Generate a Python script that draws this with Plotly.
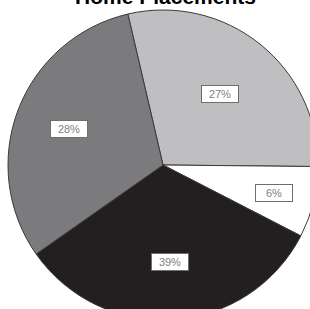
import math
import plotly.graph_objects as go

title_text = "Home Placements"
categories = ["Placement A", "Placement B", "Placement C", "Placement D"]
slice_values = [28.8, 7.4, 32.7, 31.1]
label_texts = ["27%", "6%", "39%", "28%"]
colors = ["#bfbfc2", "#ffffff", "#231f20", "#7b7b7e"]

W, H = 326, 330
CX, CY, R = 163, 165, 155   # pie centre / radius in pixels from top-left
ROT = -13.1
LABEL_R = [0.59, 0.74, 0.63, 0.65]

fig = go.Figure(go.Pie(
    labels=categories, values=slice_values, sort=False, direction="clockwise",
    rotation=ROT, textinfo="none", hoverinfo="label+percent",
    marker=dict(colors=colors, line=dict(color="#3a3a3a", width=1)),
    domain=dict(x=[(CX - R) / W, (CX + R) / W], y=[1 - (CY + R) / H, 1 - (CY - R) / H]),
))

# boxed percentage labels at the middle of each slice
total = sum(slice_values)
cum = 0.0
annotations = []
for v, t, rf in zip(slice_values, label_texts, LABEL_R):
    mid = math.radians(ROT + (cum + v / 2) / total * 360)
    cum += v
    px = CX + rf * R * math.sin(mid)
    py = CY - rf * R * math.cos(mid)
    annotations.append(dict(
        x=px / W, y=1 - py / H, xref="paper", yref="paper", text=t, showarrow=False,
        font=dict(family="Liberation Sans, Arial", size=11, color="#808080"),
        bgcolor="#ffffff", bordercolor="#6e6e6e", borderwidth=1, borderpad=2,
        width=32, height=12, xanchor="center", yanchor="middle",
    ))

annotations.append(dict(
    x=166 / W, y=1 - 9.5 / H, xref="paper", yref="paper", text="<b>" + title_text + "</b>",
    showarrow=False, xanchor="center", yanchor="bottom",
    font=dict(family="Liberation Sans, Arial", size=21, color="#000000"),
))

fig.update_layout(width=W, height=H, margin=dict(l=0, r=0, t=0, b=0), showlegend=False,
                  paper_bgcolor="white", annotations=annotations)
fig.write_html("out.html", config={"displayModeBar": False},
               post_script="document.body.style.margin='0';document.body.style.overflow='hidden';")
